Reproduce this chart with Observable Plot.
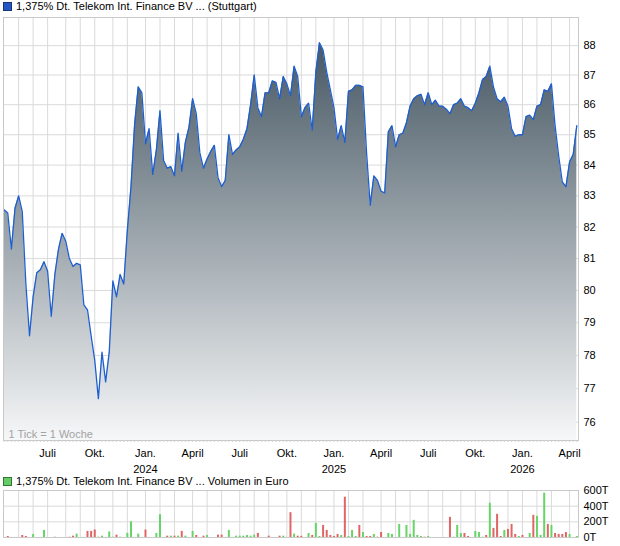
<!DOCTYPE html>
<html>
<head>
<meta charset="utf-8">
<script src="https://cdn.jsdelivr.net/npm/d3@7"></script>
<script src="https://cdn.jsdelivr.net/npm/@observablehq/plot@0.6"></script>
<style>
  body { margin: 0; background: #fff; font-family: "Liberation Sans", Arial, sans-serif; }
  #wrap { position: relative; width: 620px; height: 546px; overflow: hidden; }
  .legend { position: absolute; left: 3px; font-size: 11px; line-height: 13px; color: #000; display: flex; align-items: center; white-space: nowrap; }
  .legend .sw { width: 7px; height: 7px; margin-right: 4px; box-sizing: content-box; }
  #price { position: absolute; left: 0; top: 0; }
  #vol { position: absolute; left: 0; top: 488px; }
  svg { overflow: visible; }
</style>
</head>
<body>
<div id="wrap">
  <div class="legend" style="top:0px"><span class="sw" style="background:#2358c4;border:1px solid #1a3570"></span>1,375% Dt. Telekom Int. Finance BV ... (Stuttgart)</div>
  <div id="price"></div>
  <div class="legend" style="top:475px"><span class="sw" style="background:#66cc66;border:1px solid #2f7a2f"></span>1,375% Dt. Telekom Int. Finance BV ... Volumen in Euro</div>
  <div id="vol"></div>
</div>
<script>
// Weekly closing prices (in %), first week ending 2023-04-06
const firstWeek = "2023-04-06";
const prices = [
  82.55, 82.45, 81.3, 82.6, 83.0, 82.5, 80.2, 78.6, 79.8, 80.55,
  80.65, 80.9, 80.6, 79.2, 80.5, 81.3, 81.8, 81.55, 81.0, 80.75,
  80.85, 80.8, 79.55, 79.4, 78.6, 77.85, 76.7, 78.1, 77.2, 78.1,
  80.3, 79.8, 80.5, 80.2, 81.9, 83.3, 85.35, 86.6, 86.4, 84.7,
  85.2, 83.7, 84.5, 85.8, 84.15, 83.9, 83.95, 83.65, 85.05, 83.8,
  84.75, 85.25, 86.2, 85.7, 84.4, 83.9, 84.2, 84.45, 84.65, 83.6,
  83.3, 83.5, 85.0, 84.35, 84.5, 84.6, 84.85, 85.2, 86.0, 87.0,
  85.9, 85.6, 86.4, 86.4, 86.8, 86.75, 86.2, 86.95, 86.7, 86.3,
  87.3, 86.95, 85.6, 85.9, 86.05, 85.15, 87.1, 88.1, 87.85, 87.1,
  86.5, 85.9, 84.85, 85.3, 84.75, 86.45, 86.5, 86.65, 86.65, 86.6,
  84.4, 82.7, 83.65, 83.5, 83.15, 83.1, 85.1, 85.3, 84.6, 85.0,
  85.05, 85.4, 85.95, 86.2, 86.3, 86.35, 86.0, 86.4, 86.0, 86.15,
  85.95, 85.95, 85.85, 85.7, 86.0, 86.05, 86.2, 85.95, 85.9, 85.8,
  86.05, 86.4, 86.85, 86.95, 87.3, 86.6, 86.2, 86.1, 86.25, 85.95,
  85.2, 84.95, 85.0, 85.0, 85.6, 85.65, 85.5, 85.95, 86.0, 86.5,
  86.45, 86.7, 85.3, 84.3, 83.45, 83.3, 84.1, 84.35, 85.3
];

// Weekly turnover in thousand euro (week number counted from firstWeek = 1)
const volumeWeeks = [
  2, 6, 7, 9, 12, 15, 19, 20, 21, 24, 25, 26, 27, 28, 30, 31, 32, 33, 35, 36,
  38, 40, 43, 44, 46, 47, 48, 49, 50, 51, 53, 54, 56, 57, 60, 61, 63, 65, 66, 67,
  68, 69, 70, 71, 74, 77, 78, 80, 81, 82, 83, 85, 86, 87, 88, 89, 90, 91, 92, 93,
  94, 95, 96, 97, 98, 99, 100, 101, 102, 103, 104, 105, 107, 108, 110, 112, 113, 114, 115, 116,
  117, 118, 124, 125, 126, 127, 128, 129, 131, 132, 133, 134, 135, 136, 137, 138, 139, 140, 141, 142,
  143, 144, 146, 147, 148, 149, 150, 151, 152, 153, 154, 155, 156, 157, 159
];
const volumes = [
  13, 26, 13, 39, 91, 4, 4, 17, 43, 78, 78, 96, 4, 17, 70, 4, 30, 4, 52, 200,
  43, 96, 52, 291, 17, 17, 17, 17, 78, 17, 78, 26, 17, 26, 30, 30, 91, 17, 17, 17,
  26, 17, 30, 52, 17, 17, 17, 317, 43, 17, 15, 51, 26, 180, 13, 154, 90, 26, 13, 39,
  26, 514, 13, 90, 13, 154, 64, 13, 13, 39, 4, 64, 51, 39, 167, 154, 39, 219, 26, 13,
  4, 13, 257, 4, 154, 51, 51, 13, 77, 64, 4, 26, 437, 116, 296, 13, 90, 103, 167, 39,
  13, 26, 51, 283, 270, 26, 566, 167, 154, 51, 39, 39, 64, 39, 13
];
// "up" = green bar, "down" = red bar
const volumeDir = [
  "down", "down", "down", "up", "up", "up", "down", "down", "up", "down", "down", "down", "down", "up", "up", "up", "down", "up", "up", "up",
  "up", "down", "up", "up", "down", "up", "down", "up", "down", "up", "up", "down", "down", "up", "down", "down", "up", "up", "up", "up",
  "up", "up", "up", "down", "down", "down", "up", "down", "up", "down", "down", "up", "down", "up", "up", "down", "down", "down", "down", "down",
  "up", "down", "up", "up", "up", "down", "up", "down", "down", "up", "down", "down", "up", "up", "up", "up", "up", "up", "up", "up",
  "down", "up", "down", "up", "up", "up", "down", "down", "up", "up", "up", "down", "up", "down", "down", "down", "up", "down", "down", "down",
  "up", "down", "up", "down", "up", "up", "up", "down", "up", "down", "down", "down", "down", "up", "up"
];

const yTicks = [76, 77, 78, 79, 80, 81, 82, 83, 84, 85, 86, 87, 88];
const volTicks = [0, 200, 400, 600];
const monthNames = {0: "Jan.", 3: "April", 6: "Juli", 9: "Okt."};

const DAY = 864e5, WEEK = 7 * DAY;
const start = new Date(firstWeek + "T00:00:00Z");
const weekDates = prices.map((_, i) => new Date(+start + i * WEEK));
const priceData = prices.map((p, i) => ({date: weekDates[i], price: p}));
const volData = volumeWeeks.map((w, i) => ({
  date: new Date(+start + (w - 1) * WEEK), value: volumes[i], dir: volumeDir[i]
}));

const xDomain = [new Date(Date.UTC(2023, 3, 4, 19)), new Date(Date.UTC(2026, 3, 19, 6))];
const yDomain = [75.46, 88.97];

// Grid lines sit on the weekly tick nearest to each month start
const monthStarts = d3.utcMonth.range(xDomain[0], xDomain[1]);
const gridDates = monthStarts.map(m => d3.least(weekDates, w => Math.abs(w - m)));
const labelMap = new Map();
monthStarts.forEach((m, i) => {
  const mo = m.getUTCMonth();
  if (mo % 3 === 0) labelMap.set(+gridDates[i], mo === 0 ? `${monthNames[mo]}\n${m.getUTCFullYear()}` : monthNames[mo]);
});
const labelDates = gridDates.filter(d => labelMap.has(+d));

const gridColor = "#dadada";
const frameColor = "#c9c9c9";

const price = Plot.plot({
  width: 620, height: 474,
  marginTop: 17, marginBottom: 34, marginLeft: 3, marginRight: 42,
  style: {fontFamily: "'Liberation Sans', Arial, sans-serif", fontSize: "11px", color: "#000", background: "transparent"},
  x: {type: "utc", domain: xDomain, axis: null},
  y: {type: "log", domain: yDomain, axis: null},
  marks: [
    Plot.gridX(gridDates, {stroke: gridColor, strokeOpacity: 1}),
    Plot.gridY(yTicks, {stroke: gridColor, strokeOpacity: 1}),
    Plot.areaY(priceData, {x: "date", y1: yDomain[0], y2: "price", fill: "url(#priceFill)"}),
    Plot.lineY(priceData, {x: "date", y: "price", stroke: "#1e5fd0", strokeWidth: 1.3}),
    Plot.frame({stroke: frameColor}),
    Plot.text(["1 Tick = 1 Woche"], {frameAnchor: "bottom-left", dx: 5, dy: -3, lineAnchor: "bottom", textAnchor: "start", fill: "#a3a3a3", fontSize: 11}),
    Plot.axisX(weekDates, {tickSize: 2, tickFormat: () => "", stroke: "#cfcfcf", label: null}),
    Plot.axisX(labelDates, {tickSize: 0, tickPadding: 5, lineHeight: 1.45, tickFormat: d => labelMap.get(+d), fill: "#000", label: null}),
    Plot.axisY(yTicks, {anchor: "right", tickSize: 0, tickPadding: 5, textAnchor: "start", fill: "#000", tickFormat: d => String(d), label: null})
  ]
});

// Vertical gradient under the price line
const ns = "http://www.w3.org/2000/svg";
const defs = document.createElementNS(ns, "defs");
defs.innerHTML = `<linearGradient id="priceFill" gradientUnits="userSpaceOnUse" x1="0" y1="40" x2="0" y2="440">
  <stop offset="0" stop-color="#465763"/><stop offset="1" stop-color="#f6f7f8"/></linearGradient>`;
price.prepend(defs);
document.getElementById("price").append(price);

const vol = Plot.plot({
  width: 620, height: 58,
  marginTop: 2, marginBottom: 9, marginLeft: 3, marginRight: 42,
  style: {fontFamily: "'Liberation Sans', Arial, sans-serif", fontSize: "11px", color: "#000", background: "transparent"},
  x: {type: "utc", domain: xDomain, axis: null},
  y: {domain: [0, 600], axis: null},
  marks: [
    Plot.gridX(gridDates, {stroke: gridColor, strokeOpacity: 1}),
    Plot.gridY(volTicks, {stroke: gridColor, strokeOpacity: 1}),
    Plot.frame({stroke: frameColor}),
    Plot.ruleX(volData, {x: "date", y1: 0, y2: "value", strokeWidth: 2, stroke: d => d.dir === "up" ? "#66d466" : "#e06666"}),
    Plot.axisY(volTicks, {anchor: "right", tickSize: 0, tickPadding: 5, textAnchor: "start", fill: "#000", tickFormat: d => `${d}T`, label: null})
  ]
});
document.getElementById("vol").append(vol);
</script>
</body>
</html>
